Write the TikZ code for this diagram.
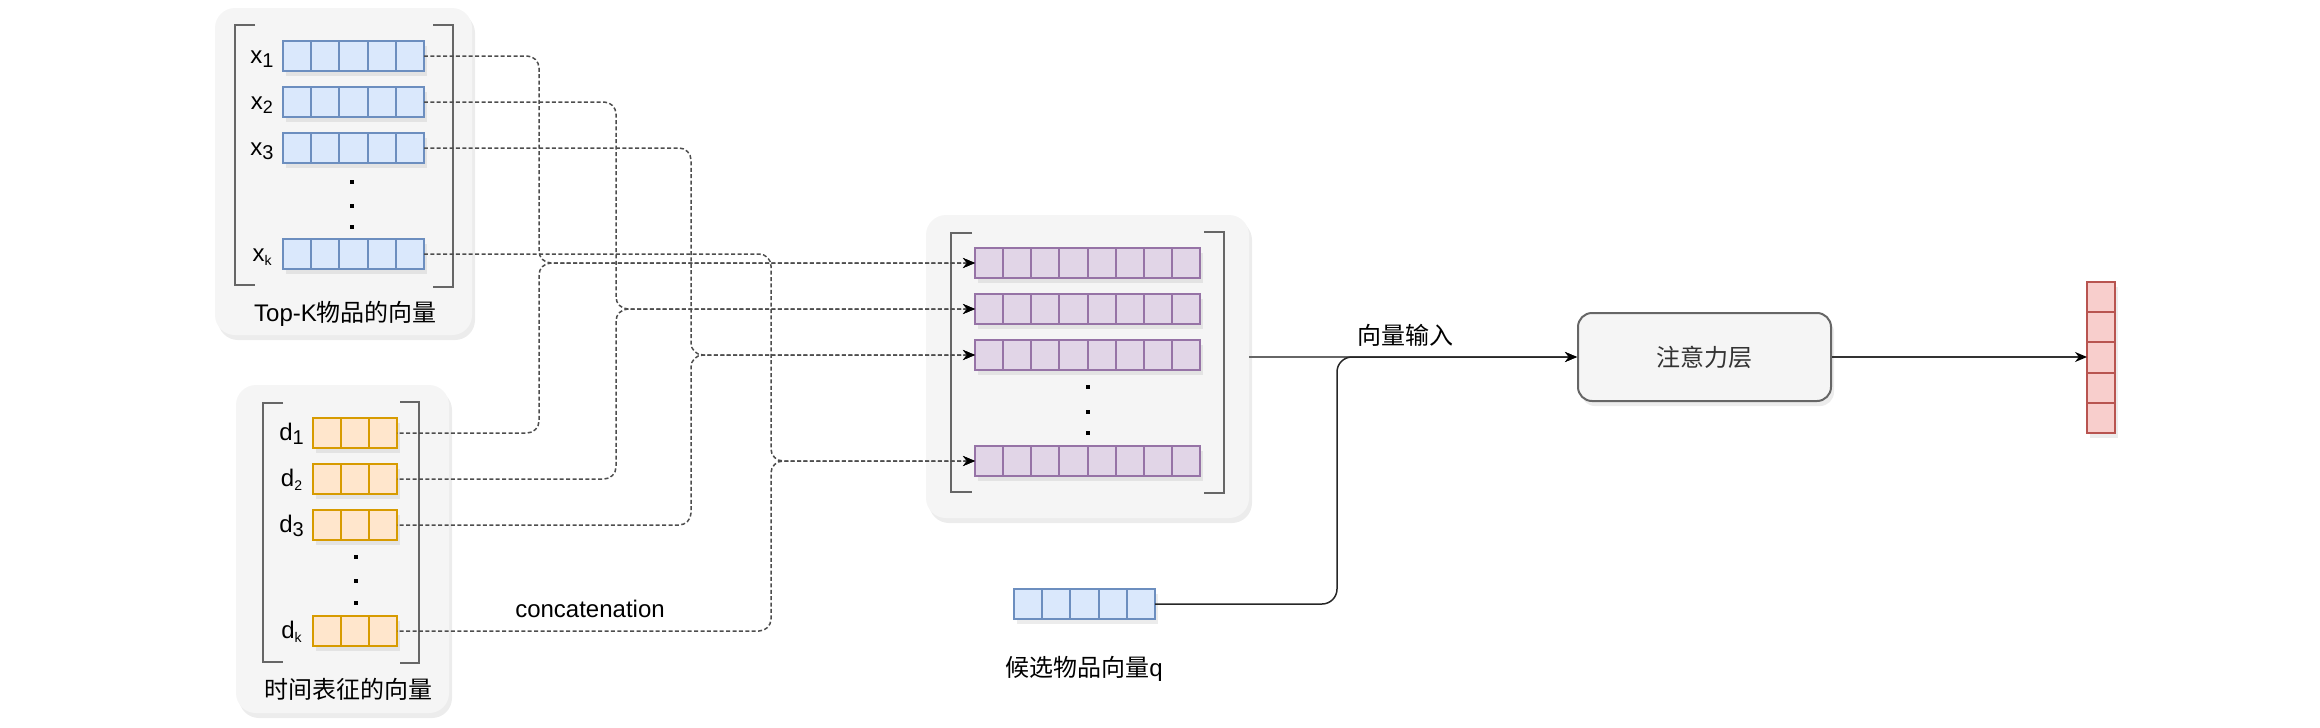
\documentclass[tikz,border=0pt]{standalone}
\usepackage{fontspec}
\setmainfont{Liberation Sans}
\newfontfamily\cjk{Noto Sans CJK SC}
\usetikzlibrary{arrows.meta,shadows}
\definecolor{panelgray}{HTML}{F5F5F5}
\definecolor{bluefill}{HTML}{DAE8FC}
\definecolor{bluedraw}{HTML}{6C8EBF}
\definecolor{orangefill}{HTML}{FFE6CC}
\definecolor{orangedraw}{HTML}{D79B00}
\definecolor{purplefill}{HTML}{E1D5E7}
\definecolor{purpledraw}{HTML}{9673A6}
\definecolor{redfill}{HTML}{F8CECC}
\definecolor{reddraw}{HTML}{B85450}
\definecolor{bracketgray}{HTML}{666666}
\definecolor{linkgray}{HTML}{4D4D4D}
\newcommand{\subidx}[2]{\raisebox{-0.35ex}{\fontsize{#1}{#1}\selectfont #2}}

\begin{document}
\begin{tikzpicture}[x=0.5pt,y=-0.5pt,font=\fontsize{12pt}{14pt}\selectfont]
	\useasboundingbox (0,0) rectangle (2320,728);
	\tikzstyle{softshadow}=[drop shadow={opacity=0.15,shadow xshift=1.5pt,shadow yshift=-2.5pt}]
	\tikzstyle{panel}=[fill=panelgray,rounded corners=10pt,inner sep=0pt,softshadow]
	\tikzstyle{vecrow}=[draw,line width=1pt,inner sep=0pt,outer sep=0pt,minimum height=15pt,softshadow]
	\tikzstyle{bluerow}=[vecrow,draw=bluedraw,fill=bluefill,minimum width=70.5pt]
	\tikzstyle{orangerow}=[vecrow,draw=orangedraw,fill=orangefill,minimum width=42pt]
	\tikzstyle{purplerow}=[vecrow,draw=purpledraw,fill=purplefill,minimum width=112.5pt]
	\tikzstyle{bracket}=[draw=bracketgray,line width=1pt]
	\tikzstyle{dashlink}=[draw=linkgray,line width=0.75pt,dash pattern=on 2pt off 1.2pt,rounded corners=6pt,{Stealth[length=6pt,width=5pt,black]}-]
	\tikzstyle{solidlink}=[line width=0.75pt,rounded corners=7.5pt,-{Stealth[length=6pt,width=5pt,black]}]

	% top-k item vectors
	\node[panel,minimum width=128.5pt,minimum height=163.5pt] (topk) at (343.5,171.5) {};
	\draw[bracket] (255,25) -- (235,25) -- (235,285) -- (255,285);
	\draw[bracket] (433,25) -- (453,25) -- (453,287) -- (433,287);
	\foreach \n/\y in {x1/56,x2/102,x3/148,xk/254}{
		\node[bluerow] (\n) at (353.5,\y) {};
		\foreach \i in {1,...,4}
			\draw[bluedraw,line width=1pt] ([xshift=\i*14.1pt]\n.north west) -- ([xshift=\i*14.1pt]\n.south west);
	}
	\node[anchor=base] (lx1) at (262,63) {x\subidx{10}{1}};
	\node[anchor=base] (lx2) at (262,109) {x\subidx{9}{2}};
	\node[anchor=base] (lx3) at (262,155) {x\subidx{10}{3}};
	\node[anchor=base] (lxk) at (262,261) {x\subidx{7}{k}};
	\foreach \y in {182,206,227} \fill (350,\y-2) rectangle +(4,4);
	\node[anchor=base] (topklbl) at (345.5,321) {Top-K{\cjk 物品的向量}};

	% time vectors
	\node[panel,minimum width=106.5pt,minimum height=164pt] (timep) at (342.5,549) {};
	\draw[bracket] (283,403) -- (263,403) -- (263,662) -- (283,662);
	\draw[bracket] (400,402) -- (419,402) -- (419,663) -- (400,663);
	\foreach \n/\y in {d1/433,d2/479,d3/525,dk/631}{
		\node[orangerow] (\n) at (355,\y) {};
		\foreach \i in {1,2}
			\draw[orangedraw,line width=1pt] ([xshift=\i*14pt]\n.north west) -- ([xshift=\i*14pt]\n.south west);
	}
	\node[anchor=base] (ld1) at (291.5,440) {d\subidx{10}{1}};
	\node[anchor=base] (ld2) at (291.5,486) {d\subidx{7}{2}};
	\node[anchor=base] (ld3) at (291.5,532) {d\subidx{10}{3}};
	\node[anchor=base] (ldk) at (291.5,638) {d\subidx{7}{k}};
	\foreach \y in {557,581,603} \fill (354,\y-2) rectangle +(4,4);
	\node[anchor=base] (timelbl) at (348.5,698) {\cjk 时间表征的向量};

	% concatenated vectors
	\node[panel,minimum width=161.5pt,minimum height=151.5pt] (concat) at (1087.5,366.5) {};
	\draw[bracket] (972,233) -- (951,233) -- (951,492) -- (972,492);
	\draw[bracket] (1204,232) -- (1224,232) -- (1224,493) -- (1204,493);
	\foreach \n/\y in {p1/263,p2/309,p3/355,pk/461}{
		\node[purplerow] (\n) at (1087.5,\y) {};
		\foreach \i in {1,...,7}
			\draw[purpledraw,line width=1pt] ([xshift=\i*14.0625pt]\n.north west) -- ([xshift=\i*14.0625pt]\n.south west);
	}
	\foreach \y in {387,412,433} \fill (1086,\y-2) rectangle +(4,4);

	% candidate, attention, output
	\node[bluerow] (q) at (1084.5,604) {};
	\foreach \i in {1,...,4}
		\draw[bluedraw,line width=1pt] ([xshift=\i*14.1pt]q.north west) -- ([xshift=\i*14.1pt]q.south west);
	\node[anchor=base] (qlbl) at (1084,676) {{\cjk 候选物品向量}q};
	\node[draw=bracketgray,fill=panelgray,line width=1pt,rounded corners=7pt,minimum width=126.5pt,minimum height=44pt,softshadow,text=black!80] (att) at (1704.5,357) {\cjk 注意力层};
	\node[vecrow,draw=reddraw,fill=redfill,minimum width=14pt,minimum height=75.5pt] (out) at (2101,357.5) {};
	\foreach \i in {1,...,4}
		\draw[reddraw,line width=1pt] ([yshift=-\i*15.1pt]out.north west) -- ([yshift=-\i*15.1pt]out.north east);

	% concatenation links, drawn from the target so that shared dashes line up
	\coordinate (j1) at (539,263);
	\coordinate (j2) at (616,309);
	\coordinate (j3) at (691,355);
	\coordinate (jk) at (771,461);
	\foreach \a/\b/\j/\p in {x1/d1/j1/p1,x2/d2/j2/p2,x3/d3/j3/p3,xk/dk/jk/pk}{
		\draw[dashlink] (\p.west) -- (\j) |- (\a.east);
		\draw[dashlink] (\p.west) -- (\j) |- (\b.east);
	}
	\node[anchor=base] (catlbl) at (590,617) {concatenation};

	\coordinate (qj) at (1337,357);
	\draw[solidlink,draw=black!60] (concat.east |- att.west) -- (att.west);
	\draw[solidlink,draw=black!85] (q.east) -| (qj) -- (att.west);
	\node[anchor=base] (inlbl) at (1405,344) {\cjk 向量输入};
	\draw[solidlink,draw=black!80] (att.east) -- (att.east -| out.west);
\end{tikzpicture}
\end{document}
